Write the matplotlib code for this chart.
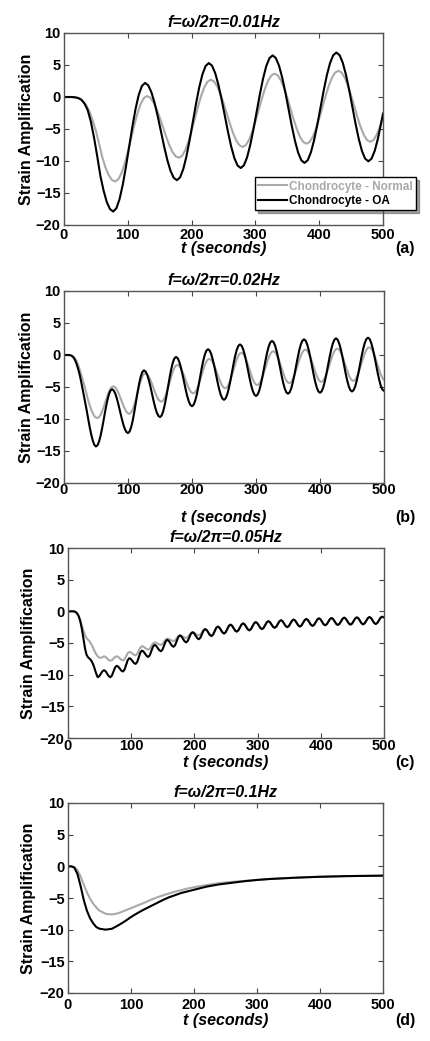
import numpy as np
import matplotlib

matplotlib.use("Agg")
import matplotlib.pyplot as plt

plt.rcParams["font.family"] = ["Liberation Sans", "DejaVu Sans"]
plt.rcParams["font.weight"] = "bold"

NORMAL_COLOR = "#a9a9a9"
OA_COLOR = "black"

# ---- panel (a): f = 0.01 Hz ----
t_a_oa = np.r_[0, np.arange(2, 500, 5), 500]
oa_a = [
    0.0, 0.0, 0.0, 0.0, -0.05, -0.15, -0.4, -1.0, -2.0, -3.8, -6.3, -9.2,
    -12.3, -14.6, -16.4, -17.5, -17.9,
    -17.41, -15.98, -13.76, -10.96, -7.85, -4.74, -1.94, 0.28, 1.71, 2.2,
    1.83, 0.75, -0.93, -3.05, -5.4, -7.75, -9.87, -11.55, -12.63, -13.0,
    -12.55, -11.25, -9.23, -6.68, -3.85, -1.02, 1.53, 3.55, 4.85, 5.3,
    4.9, 3.73, 1.92, -0.37, -2.9, -5.43, -7.72, -9.53, -10.7, -11.1,
    -10.67, -9.42, -7.47, -5.02, -2.3, 0.42, 2.87, 4.82, 6.07, 6.5,
    6.09, 4.9, 3.04, 0.7, -1.9, -4.5, -6.84, -8.7, -9.89, -10.3,
    -9.88, -8.65, -6.75, -4.34, -1.68, 0.99, 3.4, 5.3, 6.53, 6.95,
    6.53, 5.33, 3.45, 1.08, -1.55, -4.18, -6.55, -8.43, -9.63, -10.05,
    -9.64, -8.42, -6.52, -4.13, -2.6,
]
t_a_normal = np.arange(0, 501, 5)
normal_a = [
    0.0, 0.0, 0.0, -0.03, -0.1, -0.3, -0.7, -1.3, -2.3, -3.7, -5.3, -7.3,
    -9.4, -11.0, -12.2, -12.95, -13.2,
    -12.87, -11.93, -10.45, -8.59, -6.53, -4.46, -2.6, -1.12, -0.18, 0.15,
    -0.09, -0.77, -1.84, -3.19, -4.68, -6.17, -7.51, -8.58, -9.26, -9.5,
    -9.2, -8.33, -6.99, -5.28, -3.4, -1.52, 0.19, 1.53, 2.4, 2.7,
    2.44, 1.7, 0.54, -0.93, -2.55, -4.17, -5.64, -6.8, -7.54, -7.8,
    -7.52, -6.71, -5.44, -3.85, -2.08, -0.31, 1.29, 2.56, 3.37, 3.65,
    3.38, 2.6, 1.39, -0.13, -1.83, -3.52, -5.04, -6.25, -7.03, -7.3,
    -7.02, -6.21, -4.95, -3.36, -1.6, 0.16, 1.75, 3.01, 3.82, 4.1,
    3.83, 3.04, 1.81, 0.26, -1.45, -3.16, -4.71, -5.94, -6.73, -7.0,
    -6.73, -5.93, -4.69, -3.13,
]

# ---- panel (b): f = 0.02 Hz ----
t_b_oa = np.arange(0, 500.1, 2.5)
oa_b = [
    0.0, 0.0, 0.0, 0.0, -0.05, -0.15, -0.4, -0.85, -1.5, -2.3, -3.3,
    -4.5, -5.8, -7.1, -8.4, -9.8, -11.2, -12.4, -13.4, -14.05, -14.3,
    -14.08, -13.45, -12.46, -11.21, -9.83, -8.44, -7.19, -6.2, -5.57, -5.35,
    -5.52, -6.0, -6.76, -7.72, -8.78, -9.83, -10.79, -11.55, -12.03, -12.2,
    -11.96, -11.26, -10.18, -8.81, -7.3, -5.79, -4.42, -3.34, -2.64, -2.4,
    -2.58, -3.1, -3.9, -4.92, -6.05, -7.18, -8.2, -9.0, -9.52, -9.7,
    -9.47, -8.8, -7.76, -6.45, -5.0, -3.55, -2.24, -1.2, -0.53, -0.3,
    -0.49, -1.04, -1.89, -2.96, -4.15, -5.34, -6.41, -7.26, -7.81, -8.0,
    -7.78, -7.15, -6.17, -4.93, -3.55, -2.17, -0.93, 0.05, 0.68, 0.9,
    0.71, 0.15, -0.73, -1.83, -3.05, -4.27, -5.37, -6.25, -6.81, -7.0,
    -6.79, -6.17, -5.22, -4.01, -2.68, -1.34, -0.13, 0.82, 1.44, 1.65,
    1.45, 0.88, -0.01, -1.13, -2.38, -3.62, -4.74, -5.63, -6.2, -6.4,
    -6.19, -5.58, -4.63, -3.43, -2.1, -0.77, 0.43, 1.38, 1.99, 2.2,
    2.0, 1.41, 0.5, -0.65, -1.93, -3.2, -4.35, -5.26, -5.85, -6.05,
    -5.84, -5.24, -4.3, -3.11, -1.8, -0.49, 0.7, 1.64, 2.24, 2.45,
    2.25, 1.65, 0.73, -0.44, -1.73, -3.02, -4.18, -5.1, -5.7, -5.9,
    -5.69, -5.09, -4.15, -2.96, -1.65, -0.34, 0.85, 1.79, 2.39, 2.6,
    2.4, 1.81, 0.89, -0.27, -1.55, -2.83, -3.99, -4.91, -5.5, -5.7,
    -5.49, -4.9, -3.97, -2.8, -1.5, -0.2, 0.97, 1.9, 2.49, 2.7,
    2.5, 1.91, 0.99, -0.17, -1.45, -2.73, -3.89, -4.81, -5.4, -5.6,
]
t_b_normal = np.r_[0, np.arange(2, 500, 2.5), 500]
normal_b = [
    0.0, 0.0, 0.0, 0.0, -0.02, -0.1, -0.25, -0.5, -0.9, -1.5, -2.25,
    -3.1, -3.95, -4.8, -5.8, -6.8, -7.65, -8.4, -9.0, -9.5, -9.75, -9.85,
    -9.73, -9.38, -8.83, -8.14, -7.38, -6.61, -5.92, -5.37, -5.02, -4.9,
    -5.01, -5.31, -5.79, -6.39, -7.05, -7.71, -8.31, -8.79, -9.09, -9.2,
    -9.04, -8.59, -7.89, -7.01, -6.03, -5.04, -4.16, -3.46, -3.01, -2.85,
    -2.96, -3.28, -3.77, -4.39, -5.08, -5.76, -6.38, -6.88, -7.19, -7.3,
    -7.16, -6.75, -6.12, -5.31, -4.43, -3.54, -2.73, -2.1, -1.69, -1.55,
    -1.66, -1.98, -2.47, -3.09, -3.78, -4.46, -5.08, -5.58, -5.89, -6.0,
    -5.87, -5.48, -4.89, -4.13, -3.3, -2.47, -1.71, -1.12, -0.73, -0.6,
    -0.71, -1.04, -1.55, -2.19, -2.9, -3.61, -4.25, -4.76, -5.09, -5.2,
    -5.06, -4.67, -4.06, -3.28, -2.43, -1.57, -0.79, -0.18, 0.21, 0.35,
    0.23, -0.13, -0.69, -1.39, -2.18, -2.96, -3.66, -4.22, -4.58, -4.7,
    -4.57, -4.19, -3.61, -2.87, -2.05, -1.23, -0.49, 0.09, 0.47, 0.6,
    0.48, 0.12, -0.43, -1.13, -1.9, -2.67, -3.37, -3.92, -4.28, -4.4,
    -4.27, -3.9, -3.32, -2.59, -1.78, -0.96, -0.23, 0.35, 0.72, 0.85,
    0.73, 0.37, -0.19, -0.9, -1.68, -2.46, -3.16, -3.72, -4.08, -4.2,
    -4.07, -3.7, -3.13, -2.4, -1.6, -0.8, -0.07, 0.5, 0.87, 1.0,
    0.88, 0.52, -0.04, -0.75, -1.53, -2.3, -3.01, -3.57, -3.93, -4.05,
    -3.92, -3.55, -2.97, -2.24, -1.43, -0.61, 0.12, 0.7, 1.07, 1.2,
    1.07, 0.7, 0.13, -0.6, -1.4, -2.2, -2.93, -3.5, -3.87, -3.9,
]

# ---- panel (c): f = 0.05 Hz ----
t_c = np.r_[0, np.arange(2, 500, 2.5), 500]
oa_c = [
    0.0, 0.0, 0.0, 0.0, 0.0, -0.1, -0.35, -0.8, -1.6, -2.8,
    -4.3, -5.9, -6.9, -7.3, -7.5, -7.8, -8.3, -9.0, -9.8, -10.4,
    -10.24, -9.85, -9.46, -9.3, -9.46, -9.85, -10.24, -10.4,
    -10.14, -9.5, -8.86, -8.6, -8.73, -9.05, -9.37, -9.5,
    -9.19, -8.45, -7.71, -7.4, -7.53, -7.85, -8.17, -8.3,
    -7.99, -7.25, -6.51, -6.2, -6.35, -6.7, -7.05, -7.2,
    -6.92, -6.25, -5.58, -5.3, -5.45, -5.8, -6.15, -6.3,
    -6.04, -5.4, -4.76, -4.5, -4.66, -5.05, -5.44, -5.6,
    -5.34, -4.7, -4.06, -3.8, -3.96, -4.35, -4.74, -4.9,
    -4.67, -4.1, -3.53, -3.3, -3.46, -3.85, -4.24, -4.4,
    -4.17, -3.6, -3.03, -2.8, -2.96, -3.35, -3.74, -3.9,
    -3.68, -3.15, -2.62, -2.4, -2.56, -2.95, -3.34, -3.5,
    -3.3, -2.8, -2.3, -2.1, -2.26, -2.65, -3.04, -3.2,
    -3.01, -2.55, -2.09, -1.9, -2.06, -2.45, -2.84, -3.0,
    -2.81, -2.35, -1.89, -1.7, -1.86, -2.25, -2.64, -2.8,
    -2.62, -2.18, -1.73, -1.55, -1.7, -2.08, -2.45, -2.6,
    -2.42, -2.0, -1.58, -1.4, -1.56, -1.95, -2.34, -2.5,
    -2.32, -1.9, -1.48, -1.3, -1.46, -1.85, -2.24, -2.4,
    -2.22, -1.8, -1.38, -1.2, -1.36, -1.75, -2.14, -2.3,
    -2.12, -1.7, -1.28, -1.1, -1.26, -1.65, -2.04, -2.2,
    -2.03, -1.63, -1.22, -1.05, -1.21, -1.6, -1.99, -2.15,
    -1.98, -1.58, -1.17, -1.0, -1.16, -1.55, -1.94, -2.1,
    -1.93, -1.53, -1.12, -0.95, -1.11, -1.5, -1.89, -2.05,
    -1.88, -1.48, -1.07, -0.9, -1.06, -1.45, -1.84, -2.0,
    -1.83, -1.43, -1.02, -0.85,
    -0.95, -0.97,
]
# normal curve up to t=217; afterwards it runs under the OA curve
normal_c_early = [
    0.0, 0.0, 0.0, 0.0, 0.0, -0.1, -0.3, -0.7, -1.4, -2.3, -3.1, -3.8,
    -4.25, -4.5, -4.8, -5.2, -5.7, -6.3, -6.75, -7.1, -7.3, -7.35, -7.25, -7.1,
    -7.2, -7.45, -7.7, -7.8, -7.7, -7.45, -7.2, -7.1,
    -7.2, -7.43, -7.65, -7.75, -7.55, -7.08, -6.6, -6.4,
    -6.48, -6.68, -6.87, -6.95, -6.74, -6.23, -5.71, -5.5,
    -5.58, -5.78, -5.97, -6.05, -5.88, -5.48, -5.07, -4.9,
    -4.96, -5.1, -5.24, -5.3, -5.15, -4.8, -4.45, -4.3,
    -4.36, -4.5, -4.64, -4.7, -4.57, -4.25, -3.93, -3.8,
    -3.86, -4.0, -4.14, -4.2, -4.07, -3.75, -3.43, -3.3,
    -3.37, -3.55, -3.73, -3.8, -3.65, -3.3, -2.95, -2.8,
]
normal_c = normal_c_early + oa_c[len(normal_c_early):]

# ---- panel (d): f = 0.1 Hz ----
t_d = [0, 5, 10, 15, 20, 25, 30, 35, 40, 45, 50, 60, 70, 80, 90, 100, 110,
       120, 130, 140, 150, 160, 170, 180, 190, 200, 220, 240, 260, 280, 300,
       320, 340, 360, 380, 400, 420, 440, 460, 480, 500]
oa_d = [0.0, 0.0, -0.2, -1.2, -3.1, -5.3, -7.0, -8.2, -9.0, -9.6, -9.85,
        -10.0, -9.85, -9.3, -8.7, -8.0, -7.4, -6.85, -6.35, -5.85, -5.35,
        -4.9, -4.55, -4.2, -3.95, -3.7, -3.2, -2.85, -2.6, -2.35, -2.15,
        -2.0, -1.9, -1.8, -1.72, -1.65, -1.6, -1.55, -1.52, -1.5, -1.47]
normal_d = [0.0, 0.0, -0.1, -0.6, -1.6, -2.9, -4.1, -5.1, -5.9, -6.5, -7.0,
            -7.5, -7.6, -7.4, -7.0, -6.6, -6.2, -5.8, -5.35, -4.95, -4.6,
            -4.3, -4.0, -3.75, -3.5, -3.3, -2.95, -2.65, -2.45, -2.3, -2.15,
            -2.0, -1.9, -1.8, -1.72, -1.65, -1.6, -1.55, -1.52, -1.5, -1.47]

titles = ["f=ω/2π=0.01Hz", "f=ω/2π=0.02Hz", "f=ω/2π=0.05Hz", "f=ω/2π=0.1Hz"]
panel_tags = ["(a)", "(b)", "(c)", "(d)"]
series_labels = ["Chondrocyte - Normal", "Chondrocyte - OA"]
x_ticks = [0, 100, 200, 300, 400, 500]
y_ticks = [-20, -15, -10, -5, 0, 5, 10]

panels = [
    (t_a_normal, normal_a, t_a_oa, oa_a),
    (t_b_normal, normal_b, t_b_oa, oa_b),
    (t_c, normal_c, t_c, oa_c),
    (t_d, normal_d, t_d, oa_d),
]

W, H = 430, 1041
# axes boxes in pixels: left, top, right, bottom
boxes = [(64, 33, 383, 225), (64, 291, 384, 483), (68, 548, 384, 738), (68, 803, 383, 993)]
tick_pads = [2.0, 0.3, 0.8, 3.5]
xlabel_px = [248, 518, 762, 1020]
ylabel_px = [34, 34, 36, 36]

fig = plt.figure(figsize=(W / 100, H / 100), dpi=100)

for i, (tn, yn, to, yo) in enumerate(panels):
    l, t, r, b = boxes[i]
    ax = fig.add_axes([l / W, 1 - b / H, (r - l) / W, (b - t) / H])
    ax.plot(tn, yn, color=NORMAL_COLOR, lw=1.5, label=series_labels[0])
    ax.plot(to, yo, color=OA_COLOR, lw=1.5, label=series_labels[1])
    ax.set_xlim(0, 500)
    ax.set_ylim(-20, 10)
    ax.set_xticks(x_ticks)
    ax.set_yticks(y_ticks)
    ax.tick_params(direction="in", top=True, right=True, length=3.5, width=0.8,
                   labelsize=10.5, color="#444444")
    ax.tick_params(axis="x", pad=tick_pads[i])
    ax.tick_params(axis="y", pad=2.5)
    for sp in ax.spines.values():
        sp.set_color("#555555")
        sp.set_linewidth(1.0)

    ax.set_title(titles[i], fontsize=11.5, fontweight="bold", style="italic", pad=4)
    ax.set_ylabel("Strain Amplification", fontsize=11.5, fontweight="bold")
    ax.yaxis.set_label_coords((ylabel_px[i] - l) / (r - l), 0.5)
    ax.set_xlabel("t (seconds)", fontsize=11.5, fontweight="bold", style="italic")
    ax.xaxis.set_label_coords(0.5, -(xlabel_px[i] - b) / (b - t))
    ax.xaxis.label.set_va("center")

    fig.text(405 / W, 1 - xlabel_px[i] / H, panel_tags[i], ha="center", va="center",
             fontsize=11.5, fontweight="bold")

    if i == 0:
        ax.legend(loc="lower left", bbox_to_anchor=(0.58, 0.045), fontsize=8.5,
                  labelcolor="linecolor", frameon=True, fancybox=False, shadow=True,
                  edgecolor="black", handlelength=2.4, handletextpad=0.2,
                  borderpad=0.3, labelspacing=0.2, framealpha=1)

fig.savefig("out.png", dpi=100)
plt.close(fig)
